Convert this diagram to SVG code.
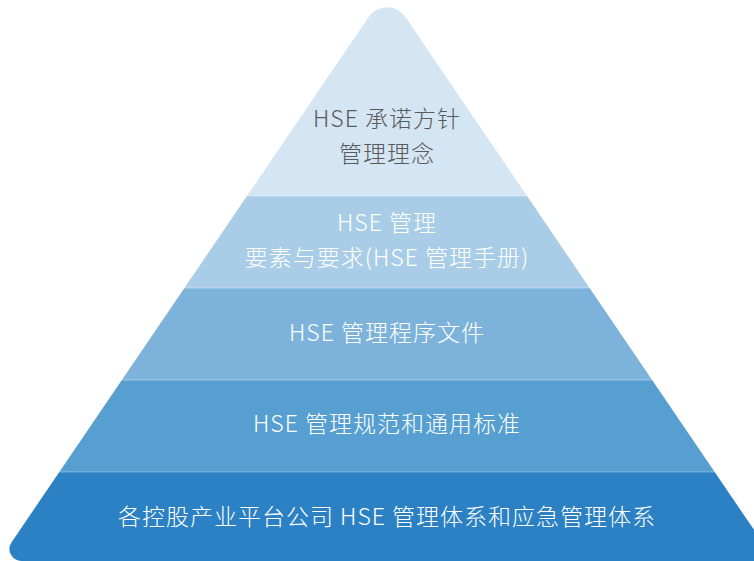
<svg xmlns="http://www.w3.org/2000/svg" width="754" height="561" viewBox="0 0 754 561">
<style>
.t{font-family:"Noto Sans CJK SC","Noto Sans",sans-serif;font-size:23px;font-weight:300;letter-spacing:1px;text-anchor:middle;fill:#ffffff}
.dark{fill:#5a5a5a}
.sep{stroke:#ffffff;stroke-opacity:0.35;stroke-width:1}
</style>
<defs>
<clipPath id="pyr">
<path d="M368.8 16.8 A22 22 0 0 1 405.2 16.8 L762.4 542.2 A12 12 0 0 1 753.7 561 L21.5 561 A12 12 0 0 1 11.6 542.2 Z"/>
</clipPath>
</defs>
<rect width="754" height="561" fill="#ffffff"/>
<g clip-path="url(#pyr)">
<g id="layer1">
<rect x="0" y="0" width="780" height="196" fill="#d4e5f3"/>
<text class="t dark" x="387" y="127">HSE 承诺方针</text>
<text class="t dark" x="387" y="162">管理理念</text>
</g>
<g id="layer2">
<rect x="0" y="196" width="780" height="92" fill="#a9cde7"/>
<text class="t" x="387" y="231">HSE 管理</text>
<text class="t" x="387" y="266">要素与要求(HSE 管理手册)</text>
</g>
<g id="layer3">
<rect x="0" y="288" width="780" height="92" fill="#7db3da"/>
<text class="t" x="387" y="341">HSE 管理程序文件</text>
</g>
<g id="layer4">
<rect x="0" y="380" width="780" height="92" fill="#569fd0"/>
<text class="t" x="387" y="432">HSE 管理规范和通用标准</text>
</g>
<g id="layer5">
<rect x="0" y="472" width="780" height="89" fill="#2b81c3"/>
<text class="t" x="387" y="525">各控股产业平台公司 HSE 管理体系和应急管理体系</text>
</g>
<g id="connectors">
<line class="sep" x1="0" y1="196" x2="780" y2="196"/>
<line class="sep" x1="0" y1="288" x2="780" y2="288"/>
<line class="sep" x1="0" y1="380" x2="780" y2="380"/>
<line class="sep" x1="0" y1="472" x2="780" y2="472"/>
</g>
</g>
</svg>
